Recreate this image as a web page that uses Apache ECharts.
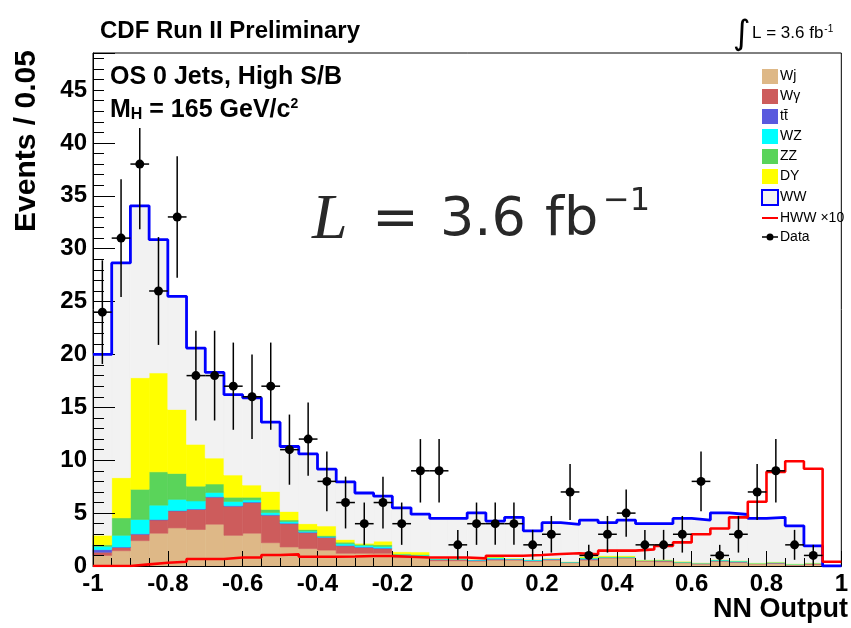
<!DOCTYPE html>
<html><head><meta charset="utf-8">
<script src="https://cdn.jsdelivr.net/npm/echarts@6/dist/echarts.min.js"></script>
<style>html,body{margin:0;padding:0;background:#fff}#c{width:851px;height:628px}</style>
</head><body><div id="c"></div>
<script>
// ---- binning (NN output, 40 bins of 0.05 from -1 to 1)
const xMin = -1, binW = 0.05, nBins = 40;
const xTickLabels = ['-1','-0.8','-0.6','-0.4','-0.2','0','0.2','0.4','0.6','0.8','1'];
// ---- observed data counts per bin
const dataCounts = [24,31,38,26,33,18,18,17,16,17,11,12,8,6,4,6,4,9,9,2,4,4,4,2,3,7,1,3,5,2,2,3,8,1,3,7,9,2,1,0];
// ---- background components (stacked, bottom to top)
const wj = [1.0,1.45,2.4,3.1,3.6,3.45,3.95,2.9,3.1,2.2,1.8,1.65,1.5,1.2,1.2,1.2,0.8,0.8,0.5,0.5,0.45,0.55,0.55,0.45,0.55,0.3,0.55,0.75,0.75,0.45,0.4,0.3,0.2,0.45,0.35,0.2,0.25,0.1,0.15,0];
const wg = [0.3,0.3,0.6,1.25,1.6,1.9,2.55,2.75,2.9,2.6,2.2,1.5,1.2,0.7,0.55,0.45,0.15,0.1,0.1,0.1,0.08,0.1,0.08,0.05,0.08,0.04,0.1,0.05,0.05,0.06,0.1,0.05,0.02,0.05,0.05,0.03,0.05,0.03,0.1,0];
const tt = [0.25,0.05,0.05,0.05,0.05,0.05,0.05,0.05,0.05,0.05,0.05,0.05,0.03,0.05,0.05,0.05,0.03,0.03,0.02,0.02,0.02,0.02,0.02,0.02,0.02,0.02,0.02,0.02,0.02,0.01,0.01,0.01,0.06,0.01,0.01,0.01,0.01,0.01,0.01,0];
const wz = [0.3,1.1,1.35,1.35,1.05,0.75,0.4,0.4,0.2,0.2,0.15,0.1,0.05,0.15,0.15,0.15,0.12,0.1,0.05,0.05,0.05,0.1,0.05,0.08,0.05,0.04,0.08,0.03,0.03,0.03,0.02,0.02,0.01,0.08,0.08,0.04,0.06,0.05,0.02,0];
const zz = [0.15,1.65,2.85,3.15,2.45,1.4,0.8,0.4,0.25,0.3,0.15,0.15,0.1,0.15,0.1,0.15,0.05,0.05,0.03,0.02,0.02,0.05,0.02,0.01,0.02,0.01,0.05,0.03,0.03,0.02,0.06,0.02,0.01,0.01,0.01,0.01,0.01,0.01,0.01,0];
const dy = [0.9,3.8,10.55,9.35,6.05,3.95,2.45,2.1,1.15,1.7,0.8,0.55,0.9,0.25,0.1,0.35,0.2,0.25,0.02,0.01,0.01,0.08,0.03,0.01,0.02,0.01,0.1,0.1,0.1,0.01,0.01,0.05,0.01,0.01,0.01,0.01,0.01,0.01,0.01,0];
const ww = [17.1,20.3,16.25,12.6,10.7,9.1,8.1,7.6,8.25,6.55,6.15,6.6,5.37,5.45,4.75,4.25,4.15,3.57,3.78,3.8,4.4,3.35,3.85,2.71,3.36,3.51,3.44,3.12,3.36,3.42,3.4,4.05,4.03,4.42,4.36,4.2,4.21,3.59,1.6,0];
// ---- signal HWW x10
const hww = [0,0,0.15,0.3,0.4,0.66,0.66,0.8,0.8,1.04,1.1,0.88,0.88,0.9,0.95,0.95,0.88,0.8,0.8,0.8,0.72,0.97,0.97,1.04,1.13,1.2,1.1,1.45,1.45,1.57,1.9,2.23,3.0,3.55,4.6,6.07,8.9,9.9,9.2,0.4];

const edges = Array.from({length: nBins + 1}, (_, i) => +(xMin + i * binW).toFixed(3));
const centers = edges.slice(0, nBins).map(e => +(e + binW / 2).toFixed(3));

const TT = 'tt\u0304';
const comps = [
  {name: 'Wj', vals: wj, color: '#deb887'},
  {name: 'W\u03b3', vals: wg, color: '#cd5c5c'},
  {name: TT, vals: tt, color: '#5a5ade'},
  {name: 'WZ', vals: wz, color: '#00ffff'},
  {name: 'ZZ', vals: zz, color: '#5ad45a'},
  {name: 'DY', vals: dy, color: '#ffff00'},
  {name: 'WW', vals: ww, color: '#f2f2f2'}
];
const cum = new Array(nBins).fill(0);
const stackSeries = comps.map(c => {
  const d = c.vals.map((v, i) => { const b = cum[i]; cum[i] = b + v; return [edges[i], edges[i + 1], b, b + v]; });
  return {
    type: 'custom', name: c.name, z: 2, silent: true,
    itemStyle: {color: c.color},
    encode: {x: [0, 1], y: [2, 3]},
    data: d,
    renderItem: (params, api) => {
      if (api.value(3) - api.value(2) <= 0) return null;
      const a = api.coord([api.value(0), api.value(3)]);
      const b = api.coord([api.value(1), api.value(2)]);
      return {type: 'rect', shape: {x: a[0], y: a[1], width: b[0] - a[0], height: b[1] - a[1]},
        style: {fill: c.color, stroke: c.color, lineWidth: 0.6}};
    }
  };
});
const total = cum.slice();
const stepData = arr => arr.map((v, i) => [edges[i], v]).concat([[edges[nBins], arr[nBins - 1]]]);

const errData = [], ptsData = [];
dataCounts.forEach((n, i) => {
  if (n > 0) { errData.push([centers[i], n, Math.sqrt(n), edges[i], edges[i + 1]]); ptsData.push([centers[i], n]); }
});

const chart = echarts.init(document.getElementById('c'), null, {renderer: 'canvas'});
const F = 'Liberation Sans';
const dataIcon = 'path://M0,6.8H4.6V8.2H0Z M11.4,6.8H16V8.2H11.4Z M4.5,7.5A3.5,3.5 0 1,1 11.5,7.5A3.5,3.5 0 1,1 4.5,7.5Z';
const lineIcon = 'path://M0,0H16V2H0Z';
chart.setOption({
  backgroundColor: '#fff',
  animation: false,
  grid: {left: 93, right: 3, top: 53, bottom: 62, show: true, borderColor: '#000', borderWidth: 1, backgroundColor: 'transparent'},
  xAxis: {
    type: 'value', min: -1, max: 1, interval: 0.2, z: 5,
    axisLine: {onZero: false, lineStyle: {color: '#000', width: 1}},
    axisTick: {inside: true, length: 15, lineStyle: {color: '#000', width: 1}},
    minorTick: {show: true, splitNumber: 4, length: 8, lineStyle: {color: '#000', width: 1}},
    splitLine: {show: false},
    axisLabel: {margin: 6, color: '#000', fontFamily: F, fontWeight: 'bold', fontSize: 24,
      formatter: v => xTickLabels[Math.round((v + 1) / 0.2)] }
  },
  yAxis: {
    type: 'value', min: 0, max: 48.5, interval: 5, z: 5,
    axisLine: {onZero: false, lineStyle: {color: '#000', width: 1}},
    axisTick: {inside: true, length: 22, lineStyle: {color: '#000', width: 1}},
    minorTick: {show: true, splitNumber: 5, length: 11, lineStyle: {color: '#000', width: 1}},
    splitLine: {show: false},
    axisLabel: {margin: 6, color: '#000', fontFamily: F, fontWeight: 'bold', fontSize: 24, showMaxLabel: false}
  },
  legend: {
    orient: 'vertical', left: 756, top: 64, itemWidth: 16, itemHeight: 15, itemGap: 5,
    textStyle: {fontFamily: F, fontSize: 14, color: '#000', padding: [0, 0, 0, -3]},
    selectedMode: false,
    data: [
      {name: 'Wj', icon: 'rect'}, {name: 'W\u03b3', icon: 'rect'}, {name: TT, icon: 'rect'},
      {name: 'WZ', icon: 'rect'}, {name: 'ZZ', icon: 'rect'}, {name: 'DY', icon: 'rect'},
      {name: 'WW', icon: 'rect', itemStyle: {color: '#f2f2f2', borderColor: '#0000ff', borderWidth: 2}},
      {name: 'HWW \u00d710', icon: lineIcon, itemStyle: {color: '#ff0000'}},
      {name: 'Data', icon: dataIcon, itemStyle: {color: '#000'}}
    ]
  },
  series: stackSeries.concat([
    {type: 'line', name: 'WW total', step: 'end', data: stepData(total), symbol: 'none', z: 6,
      lineStyle: {color: '#0000ff', width: 2.8}, silent: true},
    {type: 'line', name: 'HWW \u00d710', step: 'end', data: stepData(hww), symbol: 'none', z: 7,
      itemStyle: {color: '#ff0000'}, lineStyle: {color: '#ff0000', width: 2.6}, silent: true},
    {type: 'custom', name: 'Data err', z: 8, silent: true, data: errData, encode: {x: 0, y: 1},
      renderItem: (params, api) => {
        const n = api.value(1), e = api.value(2);
        const top = api.coord([api.value(0), n + e]), bot = api.coord([api.value(0), Math.max(0, n - e)]);
        const l = api.coord([api.value(3), n]), r = api.coord([api.value(4), n]);
        return {type: 'group', children: [
          {type: 'line', shape: {x1: top[0], y1: top[1], x2: bot[0], y2: bot[1]}, style: {stroke: '#000', lineWidth: 1.5}},
          {type: 'line', shape: {x1: l[0], y1: l[1], x2: r[0], y2: r[1]}, style: {stroke: '#000', lineWidth: 1.5}}
        ]};
      }},
    {type: 'line', name: 'Data', data: ptsData, z: 9, symbol: 'circle', symbolSize: 9, showSymbol: true, showAllSymbol: true,
      itemStyle: {color: '#000'}, lineStyle: {opacity: 0, width: 0}, silent: true}
  ]),
  graphic: [
    {type: 'text', z: 100, style: {x: 100, y: 31, text: 'CDF Run II Preliminary', fontFamily: F, fontWeight: 'bold', fontSize: 24, fill: '#000', verticalAlign: 'middle'}},
    {type: 'text', z: 100, style: {x: 733, y: 35, text: '\u222b', fontFamily: 'DejaVu Sans', fontSize: 34, fill: '#000', verticalAlign: 'middle'}},
    {type: 'text', z: 100, style: {x: 752, y: 33, text: 'L = 3.6 fb{sup|-1}', fontFamily: F, fontSize: 17, fill: '#000', verticalAlign: 'middle',
      rich: {sup: {fontFamily: F, fontSize: 10, verticalAlign: 'top', padding: [0, 0, 8, 1]}}}},
    {type: 'rect', z: 99, shape: {x: 104, y: 57, width: 250, height: 71}, style: {fill: '#fff'}},
    {type: 'text', z: 100, style: {x: 110, y: 77, text: 'OS 0 Jets, High S/B', fontFamily: F, fontWeight: 'bold', fontSize: 25, fill: '#000', verticalAlign: 'middle'}},
    {type: 'text', z: 100, style: {x: 110, y: 110, text: 'M{sub|H} = 165 GeV/c{sup|2}', fontFamily: F, fontWeight: 'bold', fontSize: 25, fill: '#000', verticalAlign: 'middle',
      rich: {sub: {fontFamily: F, fontWeight: 'bold', fontSize: 16, verticalAlign: 'bottom', padding: [0, 0, 0, 0]},
             sup: {fontFamily: F, fontWeight: 'bold', fontSize: 14, verticalAlign: 'top'}}}},
    {type: 'text', z: 100, style: {x: 312, y: 221, text: 'L', fontFamily: 'Liberation Serif', fontStyle: 'italic', fontSize: 64, fill: '#282828', verticalAlign: 'middle'}},
    {type: 'text', z: 100, style: {x: 372, y: 221, text: '=', fontFamily: 'DejaVu Sans', fontSize: 56, fill: '#282828', verticalAlign: 'middle'}},
    {type: 'text', z: 100, style: {x: 440, y: 221, text: '3.6', fontFamily: 'DejaVu Sans', fontSize: 54, fill: '#282828', verticalAlign: 'middle'}},
    {type: 'text', z: 100, style: {x: 545, y: 221, text: 'fb', fontFamily: 'DejaVu Sans', fontSize: 54, fill: '#282828', verticalAlign: 'middle'}},
    {type: 'text', z: 100, style: {x: 603, y: 202, text: '\u22121', fontFamily: 'DejaVu Sans', fontSize: 32, fill: '#282828', verticalAlign: 'middle'}},
    {type: 'text', z: 100, rotation: Math.PI / 2, x: 27, y: 141, style: {x: 0, y: 0, text: 'Events / 0.05', fontFamily: F, fontWeight: 'bold', fontSize: 30, fill: '#000', align: 'center', verticalAlign: 'middle'}},
    {type: 'text', z: 100, style: {x: 848, y: 610, text: 'NN Output', fontFamily: F, fontWeight: 'bold', fontSize: 27, fill: '#000', align: 'right', verticalAlign: 'middle'}}
  ]
});
</script>
</body></html>
